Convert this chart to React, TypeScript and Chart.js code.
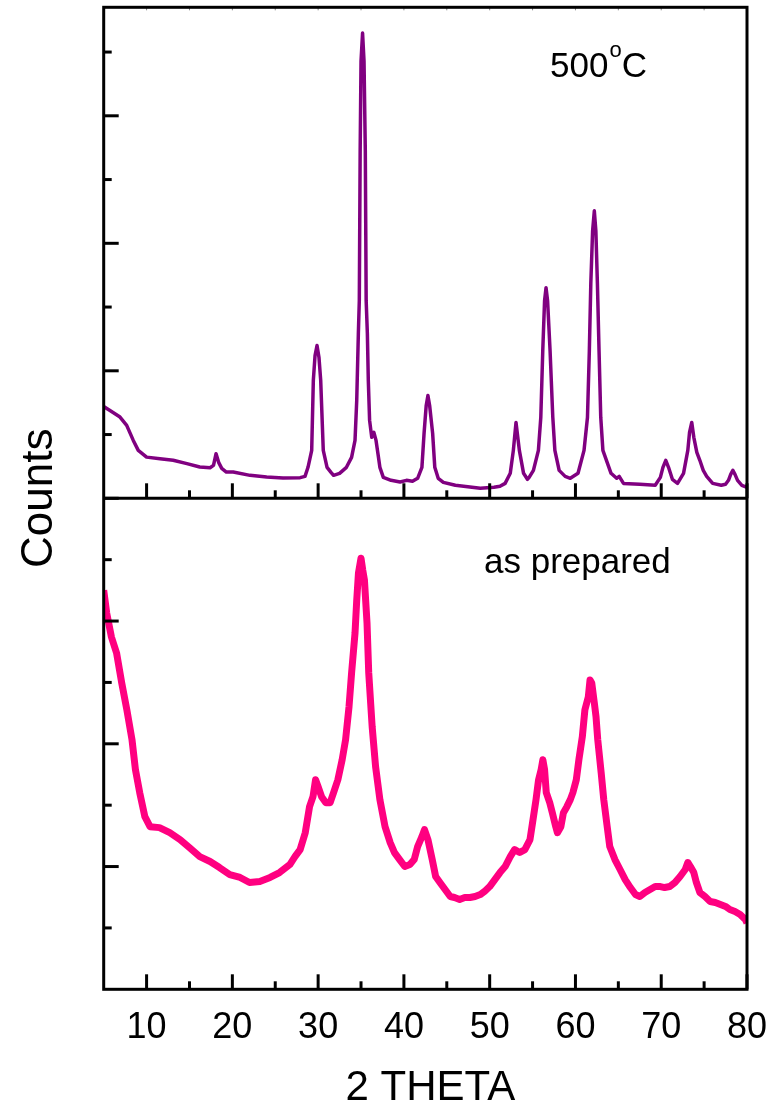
import React, { useEffect, useRef } from "react";
import { Chart, registerables } from "chart.js";

Chart.register(...registerables);

// 2-theta positions and counts, 500°C sample (top panel)
const topX = [5,5.73,6.9,7.68,8.45,9.03,10,11.56,13.1,14.7,16.2,17.4,17.8,18.1,18.4,18.76,19.3,20.1,22.06,24,25.9,27.9,28.47,28.82,29.25,29.44,29.64,29.87,30.1,30.3,30.6,31.04,31.5,31.8,32.5,33.3,33.9,34.3,34.5,34.69,34.8,34.9,35,35.18,35.35,35.5,35.6,35.74,35.85,36,36.25,36.5,36.75,37,37.2,37.6,38.5,39.55,40.3,41,41.6,42.1,42.35,42.6,42.8,43,43.35,43.6,44,44.6,46,48.9,50.5,51.2,51.8,52.4,52.76,53.07,53.46,53.95,54.4,54.6,55.1,55.68,55.96,56.19,56.4,56.57,56.75,57.04,57.36,57.6,58.1,58.8,59.4,60.3,61,61.4,61.62,61.79,62,62.2,62.38,62.56,62.75,62.95,63.2,64.15,64.8,65.1,65.6,67.5,69.3,69.9,70.2,70.53,70.85,71.3,71.9,72.6,73.1,73.3,73.56,73.8,74.15,74.5,74.9,75.3,76,77,77.5,77.84,78.1,78.35,78.6,78.9,79.4,80];
const topY = [720,689,637,572,454,376,323,311,298,272,245,240,258,350,282,235,206,206,180,167,159,162,172,243,376,924,1120,1198,1104,924,376,243,204,180,196,243,321,454,767,1292,1550,2725,3430,3649,3430,2725,1550,1292,924,611,478,517,454,337,243,164,141,128,141,133,157,243,509,728,806,728,509,243,157,125,102,78,86,94,117,196,376,595,376,196,149,164,219,376,634,1159,1550,1652,1550,1159,634,376,219,172,157,196,376,634,1159,1683,2098,2255,2098,1683,1159,634,376,196,157,172,117,110,102,164,243,298,243,149,117,196,376,517,595,478,360,298,219,172,117,102,110,141,188,219,188,141,102,86];

// 2-theta positions and counts, as-prepared sample (bottom panel)
const bottomX = [5,5.35,5.9,6.5,7.1,7.7,8.3,8.7,9.2,9.8,10.4,11.5,12.7,13.9,15,16.2,17.4,18.5,19.7,20.9,22,23.2,24.4,25.5,26.7,27.3,27.9,28.5,29,29.4,29.7,30,30.4,30.9,31.4,31.8,32.3,32.8,33.2,33.6,33.9,34.3,34.5,34.7,35,35.2,35.4,35.7,35.9,36.3,36.7,37.2,37.8,38.4,38.9,39.5,40.1,40.7,41.2,41.6,42.1,42.4,42.8,43.3,43.7,44.2,44.8,45.4,45.9,46.5,47.1,47.7,48.3,48.9,49.4,50,50.6,51.2,51.8,52.4,52.9,53.5,54.1,54.7,55,55.4,55.7,56,56.2,56.4,56.6,57,57.3,57.7,57.9,58.3,58.6,59,59.4,59.7,60.1,60.4,60.8,61.1,61.5,61.7,61.9,62.2,62.4,62.6,63,63.3,63.7,64,64.6,65.2,65.8,66.4,67,67.5,68.1,68.7,69.3,69.9,70.4,71,71.6,72.2,72.8,73.1,73.4,73.8,74.1,74.5,75.1,75.7,76.3,76.9,77.5,78,78.6,79.2,79.8,80];
const bottomY = [3252,3065,2870,2740,2496,2276,2033,1789,1602,1406,1325,1317,1276,1220,1154,1081,1041,992,935,911,870,878,911,951,1016,1081,1138,1276,1488,1569,1707,1650,1569,1520,1520,1602,1707,1870,2033,2301,2577,2902,3171,3390,3512,3415,3333,2984,2577,2138,1813,1545,1325,1195,1114,1057,1000,1016,1057,1163,1244,1301,1220,1057,919,870,813,756,748,732,748,748,756,772,797,837,894,951,1000,1081,1138,1114,1138,1220,1358,1545,1707,1789,1870,1789,1602,1520,1439,1325,1276,1325,1439,1488,1545,1602,1707,1870,2057,2276,2382,2520,2496,2333,2219,2033,1764,1545,1325,1163,1057,976,894,829,772,756,789,813,837,837,829,837,870,919,976,1033,1000,951,870,789,756,715,707,691,675,650,634,610,569,540];

const xTickLabels = [10, 20, 30, 40, 50, 60, 70, 80];
const xMinorTicks = [15, 25, 35, 45, 55, 65, 75];
const topMajorTicks = [0, 1000, 2000, 3000];
const topMinorTicks = [500, 1500, 2500, 3500];
const bottomMajorTicks = [1000, 2000, 3000];
const bottomMinorTicks = [500, 1500, 2500, 3500];

const xTitle = "2 THETA";
const yTitle = "Counts";
const topLabel = "500";
const topLabelSup = "o";
const topLabelUnit = "C";
const bottomLabel = "as prepared";

const FONT = "Arial, 'Liberation Sans', sans-serif";

const framePlugin = {
  id: "xrdFrame",
  afterDatasetsDraw(chart: any) {
    const { ctx, chartArea: ca, scales } = chart;
    const xs = scales.x;
    const yT = scales.yTop;
    const yB = scales.yBottom;
    const mid = yT.bottom;
    ctx.save();
    ctx.strokeStyle = "#000";
    ctx.lineCap = "butt";
    const line = (x1: number, y1: number, x2: number, y2: number, w: number) => {
      ctx.lineWidth = w;
      ctx.beginPath();
      ctx.moveTo(x1, y1);
      ctx.lineTo(x2, y2);
      ctx.stroke();
    };
    // faint ticks on top edge
    ctx.strokeStyle = "#888";
    for (const v of [...xTickLabels, ...xMinorTicks]) {
      const px = xs.getPixelForValue(v);
      line(px, ca.top, px, ca.top + 3, 1);
    }
    ctx.strokeStyle = "#000";
    // x ticks on bottom and middle axes
    for (const v of xTickLabels) {
      const px = xs.getPixelForValue(v);
      line(px, ca.bottom, px, ca.bottom - 15, 3);
      line(px, mid, px, mid - 15, 3);
    }
    for (const v of xMinorTicks) {
      const px = xs.getPixelForValue(v);
      line(px, ca.bottom, px, ca.bottom - 8, 3);
      line(px, mid, px, mid - 8, 3);
    }
    // y ticks
    for (const v of topMajorTicks) {
      const py = yT.getPixelForValue(v);
      line(ca.left, py, ca.left + 15, py, 3);
    }
    for (const v of topMinorTicks) {
      const py = yT.getPixelForValue(v);
      line(ca.left, py, ca.left + 8, py, 3);
    }
    for (const v of bottomMajorTicks) {
      const py = yB.getPixelForValue(v);
      line(ca.left, py, ca.left + 15, py, 3);
    }
    for (const v of bottomMinorTicks) {
      const py = yB.getPixelForValue(v);
      line(ca.left, py, ca.left + 8, py, 3);
    }
    // frame
    ctx.lineWidth = 3;
    ctx.strokeRect(ca.left, ca.top, ca.right - ca.left, ca.bottom - ca.top);
    line(ca.left, mid, ca.right, mid, 3);

    // text
    ctx.fillStyle = "#000";
    ctx.textBaseline = "alphabetic";
    ctx.textAlign = "center";
    ctx.font = `36px ${FONT}`;
    for (const v of xTickLabels) {
      ctx.fillText(String(v), xs.getPixelForValue(v), ca.bottom + 49);
    }
    ctx.font = `42px ${FONT}`;
    ctx.fillText(xTitle, (ca.left + ca.right) / 2 + 5, ca.bottom + 111);

    ctx.save();
    ctx.translate(52, (ca.top + ca.bottom) / 2);
    ctx.rotate(-Math.PI / 2);
    ctx.font = `44px ${FONT}`;
    ctx.fillText(yTitle, 0, 0);
    ctx.restore();

    ctx.textAlign = "left";
    ctx.font = `35px ${FONT}`;
    let tx = 550;
    ctx.fillText(topLabel, tx, 77);
    tx += ctx.measureText(topLabel).width + 1;
    ctx.font = `22px ${FONT}`;
    ctx.fillText(topLabelSup, tx, 57);
    tx += ctx.measureText(topLabelSup).width;
    ctx.font = `35px ${FONT}`;
    ctx.fillText(topLabelUnit, tx, 77);

    ctx.font = `35px ${FONT}`;
    ctx.fillText(bottomLabel, 484, 573);
    ctx.restore();
  },
};

export default function App() {
  const canvasRef = useRef<HTMLCanvasElement | null>(null);

  useEffect(() => {
    const canvas = canvasRef.current;
    if (!canvas) return;
    const chart = new Chart(canvas, {
      type: "line",
      data: {
        datasets: [
          {
            label: "500°C",
            data: topX.map((x, i) => ({ x, y: topY[i] })),
            yAxisID: "yTop",
            borderColor: "#800080",
            borderWidth: 3.5,
            pointRadius: 0,
            tension: 0,
            borderJoinStyle: "round",
            fill: false,
          },
          {
            label: "as prepared",
            data: bottomX.map((x, i) => ({ x, y: bottomY[i] })),
            yAxisID: "yBottom",
            borderColor: "#FF0080",
            borderWidth: 7,
            pointRadius: 0,
            tension: 0,
            borderJoinStyle: "round",
            fill: false,
          },
        ],
      },
      options: {
        animation: false,
        responsive: false,
        devicePixelRatio: 1,
        layout: { padding: { left: 103.7, right: 28, top: 7.3, bottom: 122.7 } },
        plugins: { legend: { display: false }, tooltip: { enabled: false } },
        scales: {
          x: { type: "linear", min: 5, max: 80, display: false },
          yBottom: {
            type: "linear",
            position: "left",
            stack: "xrd",
            stackWeight: 1,
            min: 0,
            max: 4000,
            display: false,
          },
          yTop: {
            type: "linear",
            position: "left",
            stack: "xrd",
            stackWeight: 1,
            min: 0,
            max: 3851,
            display: false,
          },
        },
      },
      plugins: [framePlugin],
    } as any);
    return () => chart.destroy();
  }, []);

  return (
    <div style={{ position: "absolute", left: 0, top: 0, width: 775, height: 1112, background: "#fff" }}>
      <canvas ref={canvasRef} width={775} height={1112} />
    </div>
  );
}
